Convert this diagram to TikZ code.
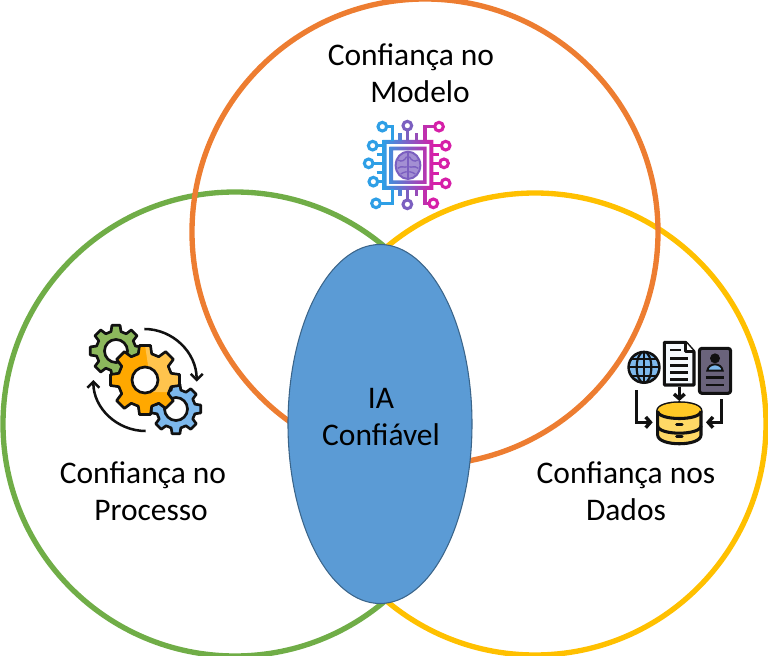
\documentclass[tikz,border=0pt]{standalone}
\usepackage{fontspec}
\setmainfont{Carlito}
\usetikzlibrary{arrows.meta}
\definecolor{cOrange}{HTML}{ED7D31}
\definecolor{cGreen}{HTML}{70AD47}
\definecolor{cYellow}{HTML}{FFC000}
\definecolor{cBlue}{HTML}{5B9BD5}
\definecolor{gOrange}{HTML}{FFA800}
\definecolor{gLight}{HTML}{FFC44D}
\definecolor{gGreen}{HTML}{8CB85C}
\definecolor{gBlue}{HTML}{7DB8EC}
\definecolor{pA}{HTML}{2E9FE6}
\definecolor{pB}{HTML}{7B5FC0}
\definecolor{pC}{HTML}{D61FA8}
\definecolor{ink}{HTML}{111111}
\newcommand{\gearpath}[6]{% cx cy router rroot teeth offset
  ({#1+#4*cos(#6-0.32*360/#5)},{#2+#4*sin(#6-0.32*360/#5)})
  \foreach \gi in {1,...,#5}{
    -- ({#1+#3*cos(#6+(\gi-1-0.2)*360/#5)},{#2+#3*sin(#6+(\gi-1-0.2)*360/#5)})
    -- ({#1+#3*cos(#6+(\gi-1+0.2)*360/#5)},{#2+#3*sin(#6+(\gi-1+0.2)*360/#5)})
    -- ({#1+#4*cos(#6+(\gi-1+0.32)*360/#5)},{#2+#4*sin(#6+(\gi-1+0.32)*360/#5)})
    -- ({#1+#4*cos(#6+(\gi-0.32)*360/#5)},{#2+#4*sin(#6+(\gi-0.32)*360/#5)})
  } -- cycle}
\tikzset{
  ring/.style={line width=4pt},
  label/.style={font=\fontsize{23.6pt}{27.75pt}\selectfont,align=center,text=black,inner sep=0pt},
  gearline/.style={draw=ink,line width=2pt,line join=round},
  icon/.style={draw=ink,line width=2.3pt,line join=round},
  pin/.style={line width=2.3pt},
  flow/.style={draw=ink,line width=1.9pt,-{Straight Barb[length=4.5pt,width=9pt]}},
  flowb/.style={draw=ink,line width=2.6pt,-{Straight Barb[length=3.5pt,width=8pt]}}
}
\begin{document}
\begin{tikzpicture}[x=0.75pt,y=-0.75pt]
\useasboundingbox (0,0) rectangle (768,656);
% rings
\draw[ring,cGreen] (235,424) circle (232);
\draw[ring,cYellow] (535,424) circle (231);
\draw[ring,cOrange] (425,232) circle (233);
\fill[cBlue] (380,424) ellipse (92 and 179.5);
\draw[line width=0.8pt,black!35!cBlue] (380,424) ellipse (92 and 179.5);
% labels
\node[label] (model) at (411,73.5) {Confiança no\\\hspace*{13.5pt}Modelo};
\node[label] (process) at (143,491) {Confiança no\\\hspace*{12pt}Processo};
\node[label] (data) at (626,491) {Confiança nos\\Dados};
\node[label] (core) at (381,417) {IA\\Confiável};
% chip icon
\begin{scope}[shift={(350,110)},x=0.25pt,y=-0.25pt]
  \shade[left color=pA,right color=pC,even odd rule]
    (98,90) rectangle (250,240) (110,102) rectangle (238,228);
  \shade[left color=pA!70!pB,right color=pC!70!pB,even odd rule]
    (118,110) rectangle (230,222) (129,121) rectangle (219,211);
  % top pins
  \draw[pin,pA] (109,50) -- (128,50) -- (128,92);
  \draw[pin,pA] (97,50) circle (13);
  \draw[pin,pB] (172,62) -- (172,92);
  \draw[pin,pB] (172,47) circle (13);
  \draw[pin,pC!75!pB] (255,50) -- (225,50) -- (225,92);
  \draw[pin,pC] (267,50) circle (13);
  \draw[pin,pA!50!pB] (150,70) -- (150,92);
  \draw[pin,pB!70!pC] (200,70) -- (200,92);
  % left pins
  \draw[pin,pA] (80,107) -- (100,107);
  \draw[pin,pA] (68,107) circle (13);
  \draw[pin,pA] (68,160) -- (100,160);
  \draw[pin,pA] (56,160) circle (13);
  \draw[pin,pA] (82,215) -- (100,215);
  \draw[pin,pA] (70,215) circle (13);
  \draw[pin,pA] (80,133) -- (100,133);
  \draw[pin,pA] (80,188) -- (100,188);
  % right pins
  \draw[pin,pC] (248,107) -- (275,107);
  \draw[pin,pC] (287,107) circle (13);
  \draw[pin,pC] (248,160) -- (270,160);
  \draw[pin,pC] (282,160) circle (13);
  \draw[pin,pC] (248,220) -- (275,220);
  \draw[pin,pC] (287,220) circle (13);
  \draw[pin,pC] (248,133) -- (268,133);
  \draw[pin,pC] (248,190) -- (268,190);
  % bottom pins
  \draw[pin,pA] (90,280) -- (128,280) -- (128,238);
  \draw[pin,pA] (78,280) circle (13);
  \draw[pin,pB] (172,271) -- (172,238);
  \draw[pin,pB] (172,283) circle (13);
  \draw[pin,pC!75!pB] (238,280) -- (225,280) -- (225,238);
  \draw[pin,pC] (250,280) circle (13);
  \draw[pin,pA!50!pB] (150,238) -- (150,258);
  \draw[pin,pB!70!pC] (200,238) -- (200,258);
  % brain
  \fill[pB!70!white] (174,166) ellipse (37 and 41);
  \draw[pB,line width=1.5pt] (174,166) ellipse (37 and 41);
  \draw[pB,line width=1.2pt] (174,126) -- (174,206);
  \draw[pB,line width=1pt] (145,150) .. controls (155,158) and (165,150) .. (170,140);
  \draw[pB,line width=1pt] (203,150) .. controls (193,158) and (183,150) .. (178,140);
  \draw[pB,line width=1pt] (143,175) .. controls (155,165) and (165,175) .. (170,170);
  \draw[pB,line width=1pt] (205,175) .. controls (193,165) and (183,175) .. (178,170);
  \draw[pB,line width=1pt] (152,192) .. controls (158,184) and (165,190) .. (170,185);
  \draw[pB,line width=1pt] (196,192) .. controls (190,184) and (183,190) .. (178,185);
\end{scope}
% gears icon
\fill[gGreen] \gearpath{116}{351}{26}{20}{8}{0};
\draw[gearline] \gearpath{116}{351}{26}{20}{8}{0};
\fill[white,draw=ink,line width=2pt] (116,351) circle (11.5);
\fill[gBlue] \gearpath{176}{409}{25}{19.5}{8}{0};
\draw[gearline] \gearpath{176}{409}{25}{19.5}{8}{0};
\fill[white,draw=ink,line width=2pt] (176,409) circle (11.5);
\fill[gOrange] \gearpath{145}{380}{35}{27}{8}{0};
\begin{scope}
  \clip (145,345) -- (185,345) -- (185,392) -- (152,392) -- cycle;
  \fill[gLight] \gearpath{145}{380}{35}{27}{8}{0};
\end{scope}
\draw[gearline] \gearpath{145}{380}{35}{27}{8}{0};
\fill[white,draw=ink,line width=2pt] (145,380) circle (13);
\begin{scope}[shift={(75,315)},x=0.25pt,y=-0.25pt]
  \draw[flow] (208,42) .. controls (293,42) and (365,112) .. (365,200);
  \draw[flow] (212,348) .. controls (127,348) and (55,280) .. (55,195);
\end{scope}
% data icon
\begin{scope}[shift={(620,335)},x=0.25pt,y=-0.25pt]
  \fill[ink] (72,97) circle (50);
  \fill[gBlue] (72,97) circle (42);
  \begin{scope}
    \clip (72,97) circle (47);
    \draw[ink,line width=1.6pt] (72,97) ellipse (22 and 47);
    \draw[ink,line width=1.6pt] (72,50) -- (72,144);
    \draw[ink,line width=1.6pt] (25,97) -- (119,97);
    \draw[ink,line width=1.6pt] (30,72) -- (114,72);
    \draw[ink,line width=1.6pt] (30,122) -- (114,122);
  \end{scope}
  \draw[icon,fill=white!92!gBlue] (133,22) -- (197,22) -- (222,50) -- (222,150) -- (133,150) -- cycle;
  \draw[icon,fill=white] (197,22) -- (197,50) -- (222,50);
  \draw[icon,line width=2pt] (150,45) -- (182,45) (150,70) -- (205,70) (150,92) -- (205,92) (150,113) -- (205,113) (150,133) -- (205,133);
  \draw[icon,fill=black!40!pB!40!gray,rounded corners=2pt] (238,40) rectangle (332,175);
  \fill[ink] (285,70) circle (15);
  \fill[gBlue,draw=ink,line width=1.4pt] (262,107) .. controls (265,82) and (305,82) .. (308,107) -- cycle;
  \draw[icon,line width=2pt] (257,128) -- (313,128) (257,150) -- (313,150);
  \draw[flowb] (178,155) -- (178,198);
  \draw[flowb] (50,165) -- (50,262) -- (98,262);
  \draw[flowb] (305,192) -- (305,262) -- (258,262);
  \draw[icon,fill=cYellow!60!white] (113,228) -- (113,300) .. controls (113,335) and (243,335) .. (243,300) -- (243,228) .. controls (243,195) and (113,195) .. (113,228) -- cycle;
  \fill[cYellow!85!white] (113,228) .. controls (113,195) and (243,195) .. (243,228) .. controls (243,255) and (113,255) .. (113,228) -- cycle;
  \draw[icon] (113,228) .. controls (113,258) and (243,258) .. (243,228);
  \draw[icon] (113,272) .. controls (113,302) and (243,302) .. (243,272);
  \draw[icon,line cap=round] (170,268) -- (186,268) (170,305) -- (186,305);
\end{scope}
\end{tikzpicture}
\end{document}
